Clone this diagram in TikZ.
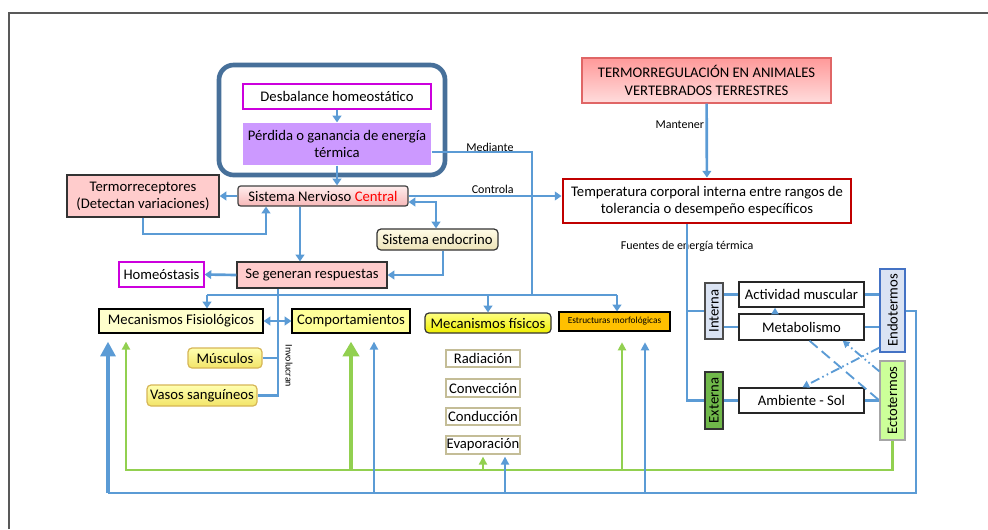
\documentclass[tikz,border=0pt]{standalone}
\usepackage{fontspec}
\setmainfont{Carlito}
\usetikzlibrary{arrows.meta,calc}
\definecolor{ablue}{HTML}{5B9BD5}
\definecolor{agreen}{HTML}{92D050}
\definecolor{frameblue}{HTML}{47709A}
\definecolor{mag}{HTML}{CC00DD}
\definecolor{lilac}{HTML}{CC99FF}
\definecolor{pinkf}{HTML}{FFCCCC}
\definecolor{pinktop}{HTML}{FFEDED}
\definecolor{pinkbot}{HTML}{F7B8B8}
\definecolor{cream1}{HTML}{FFFBE6}
\definecolor{cream2}{HTML}{EDE3B8}
\definecolor{darkred}{HTML}{C00000}
\definecolor{ylight}{HTML}{FFFFCC}
\definecolor{ymid}{HTML}{FFFF99}
\definecolor{ytop}{HTML}{FFFF80}
\definecolor{ybot}{HTML}{EEEE00}
\definecolor{goldf}{HTML}{FFC000}
\definecolor{olivegray}{HTML}{C4BD97}
\definecolor{goldbd}{HTML}{D6B656}
\definecolor{ygtop}{HTML}{FFFFB0}
\definecolor{ygbot}{HTML}{F2E468}
\definecolor{ttop}{HTML}{FF9999}
\definecolor{tbot}{HTML}{FFDDDD}
\definecolor{tbd}{HTML}{E06666}
\definecolor{lblue}{HTML}{DAE3F3}
\definecolor{mblue}{HTML}{4472C4}
\definecolor{gext}{HTML}{70B84A}
\definecolor{lgreen}{HTML}{CCFF99}
\definecolor{grayb}{HTML}{A6A6A6}
\definecolor{framegray}{HTML}{595959}
\begin{document}
\begin{tikzpicture}[x=0.75pt,y=-0.75pt,
  corners/.style n args={4}{minimum width={(#3-#1)*0.75pt}, minimum height={(#4-#2)*0.75pt}, at={({(#1+#3)/2},{(#2+#4)/2})}},
  base/.style={inner sep=0pt, align=center, font=\fontsize{11pt}{13pt}\selectfont, line width=0.9pt},
  mbox/.style={base, draw=mag, fill=white},
  lilbox/.style={base, fill=lilac},
  pinkbox/.style={base, draw=black!80, fill=pinkf},
  sncbox/.style={base, draw=black!75, rounded corners=2pt, top color=pinktop, bottom color=pinkbot},
  endobox/.style={base, draw=black!80, rounded corners=3pt, top color=cream1, bottom color=cream2},
  yl1/.style={base, draw=black, fill=ylight},
  yl2/.style={base, draw=black, fill=ymid},
  yel/.style={base, draw=black!80, rounded corners=3pt, top color=ytop, bottom color=ybot},
  gold/.style={base, draw=black, fill=goldf, font=\fontsize{7pt}{8pt}\selectfont},
  gyb/.style={base, draw=olivegray, fill=white},
  ygrad/.style={base, draw=goldbd, rounded corners=3pt, top color=ygtop, bottom color=ygbot},
  titlebox/.style={base, draw=tbd, top color=ttop, bottom color=tbot},
  tempbox/.style={base, draw=darkred, line width=2.2pt, fill=white},
  wbox/.style={base, draw=black!85, line width=1.1pt, fill=white},
  intbox/.style={base, draw=black!70, fill=lblue},
  extbox/.style={base, draw=black!80, fill=gext},
  endtbox/.style={base, draw=mblue, fill=lblue},
  ectbox/.style={base, draw=grayb, fill=lgreen},
  grpbox/.style={draw=frameblue, line width=3.5pt, rounded corners=11pt, inner sep=0pt},
  lbl/.style={font=\fontsize{9pt}{10pt}\selectfont, inner sep=1pt},
  ln/.style={draw=ablue, line width=2pt},
  arr/.style={ln, -{Triangle[width=6.5pt,length=5pt]}},
  darr/.style={ln, {Triangle[width=6.5pt,length=5pt]}-{Triangle[width=6.5pt,length=5pt]}},
  bthin/.style={draw=ablue, line width=1.5pt, -{Triangle[width=6pt,length=6pt]}},
  bthick/.style={draw=ablue, line width=3pt, -{Triangle[width=11pt,length=11pt]}},
  gl/.style={draw=agreen, line width=1.6pt},
  gthin/.style={gl, -{Triangle[width=6pt,length=6pt]}},
  gthick/.style={draw=agreen, line width=3pt, -{Triangle[width=12pt,length=11pt]}},
  dd/.style={draw=ablue, line width=1.4pt, dash pattern=on 7pt off 2.5pt on 1.2pt off 2.5pt on 1.2pt off 2.5pt, -{Triangle[width=5.5pt,length=5pt]}},
  dsh/.style={draw=ablue, line width=1.4pt, dash pattern=on 8pt off 4pt}
]
\useasboundingbox (0,0) rectangle (988,529);
\draw[framegray, line width=1.2pt] (9,529) -- (9,13) -- (988,13);

% group frame and its boxes
\node[grpbox, corners={219}{65}{445}{175}] (grp) {};
\node[mbox, corners={243}{84}{431}{109}] (desb) {Desbalance homeostático};
\node[lilbox, corners={243}{123}{431}{165}] (perd) {Pérdida o ganancia de energía\\térmica};

% left column
\node[sncbox, corners={238}{186}{408}{206}] (snc) {Sistema Nervioso {\color{red}Central}};
\node[pinkbox, corners={67}{175}{219}{217}] (termo) {Termorreceptores\\(Detectan variaciones)};
\node[endobox, corners={377}{229}{498}{250}] (endo) {Sistema endocrino};
\node[pinkbox, corners={237}{262}{387}{288}] (resp) {Se generan respuestas};
\node[mbox, corners={119}{262}{204}{287}] (homeo) {Homeóstasis};
\node[yl1, corners={99}{309}{263}{333}] (mecfis) {Mecanismos Fisiológicos};
\node[yl2, corners={292}{309}{410}{333}] (comp) {Comportamientos};
\node[yel, corners={425}{313}{551}{333}] (mecfisic) {Mecanismos físicos};
\node[gold, corners={559}{312}{670}{331}] (estr) {Estructuras morfológicas};
\node[gyb, corners={446}{350}{520}{367}] (rad) {Radiación};
\node[gyb, corners={446}{379}{520}{397}] (conv) {Convección};
\node[gyb, corners={446}{408}{520}{425}] (cond) {Conducción};
\node[gyb, corners={446}{436}{520}{454}] (evap) {Evaporación};
\node[ygrad, corners={188}{348}{262}{368}] (musc) {Músculos};
\node[ygrad, corners={147}{385}{257}{406}] (vasos) {Vasos sanguíneos};

% right column
\node[titlebox, corners={582}{58}{831}{103}] (title) {TERMORREGULACIÓN EN ANIMALES\\VERTEBRADOS TERRESTRES};
\node[tempbox, corners={563}{179}{851}{223}] (temp) {Temperatura corporal interna entre rangos de\\tolerancia o desempeño específicos};
\node[intbox, corners={705}{283}{723}{339}] (int) {\rotatebox{90}{Interna}};
\node[extbox, corners={705}{372}{723}{429}] (ext) {\rotatebox{90}{Externa}};
\node[wbox, corners={739}{282}{864}{307}] (act) {Actividad muscular};
\node[wbox, corners={739}{314}{864}{340}] (met) {Metabolismo};
\node[wbox, corners={739}{388}{864}{413}] (amb) {Ambiente - Sol};
\node[endtbox, corners={880}{269}{905}{352}] (endt) {\rotatebox{90}{Endotermos}};
\node[ectbox, corners={880}{361}{905}{440}] (ect) {\rotatebox{90}{Ectotermos}};

% helper coordinates
\coordinate (kT) at (266,234);
\coordinate (kS) at (300,0);
\coordinate (kE) at (436,202);
\coordinate (kE2) at (443,275);
\coordinate (kM) at (532,152);
\coordinate (b1) at (207,295);
\coordinate (b2) at (617,295);
\coordinate (kR) at (278,0);
\coordinate (kF) at (687,0);
\coordinate (g0) at (126,470);
\coordinate (bl0) at (108,493);
\coordinate (bR) at (916,311);
\coordinate (kG3) at (622,0);
\coordinate (kB1) at (374,0);
\coordinate (kB2) at (505,0);
\coordinate (kB3) at (645,0);
\coordinate (k9) at (775,0);

% labels
\node[lbl] (lmed) at (490,147) {Mediante};
\node[lbl] (lfue) at (687,246) {Fuentes de energía térmica};
\node[lbl, font=\fontsize{7.5pt}{8pt}\selectfont] (linv) at (289,366) {\rotatebox{-90}{Involucran}};

% connectors, top-left
\draw[arr] (desb) -- (perd);
\draw[arr] (perd.south) -- (perd.south |- snc.north);
\draw[arr] (snc.west) -- (termo.east);
\draw[arr] (termo.south) |- (kT) -- (snc.south -| kT);
\draw[arr] (snc.south -| kS) -- (resp.north -| kS);
\draw[darr] (snc.east |- kE) -- (kE) -- (endo.north -| kE);
\draw[arr] (endo.south -| kE2) |- (resp.east);
\draw[arr] (resp.west) -- (homeo.east);
\draw[arr] (snc.east) -- (temp.west |- snc.east) node[lbl, above, pos=0.55] (lctl) {Controla};
\draw[ln] (perd.east |- kM) -- (kM) -- (kM |- b1);
\draw[ln] (b1) -- (b2);
\draw[arr] (b1) -- (mecfis.north -| b1);
\draw[arr] (mecfisic.north |- b1) -- (mecfisic.north);
\draw[arr] (b2) -- (estr.north -| b2);
\draw[ln] (resp.south -| kR) -- (kR |- vasos.east) -- (vasos.east);
\draw[ln] (musc.east) -- (musc.east -| kR);
\draw[darr] (mecfis.east) -- (comp.west);

% green feedback
\draw[gthin, shorten >=6pt] (ect.south) |- (g0) -- (g0 |- mecfis.south);
\draw[gthick, shorten >=6pt] (comp.south |- g0) -- (comp.south);
\draw[gthin, shorten >=1.5pt] (evap.south |- g0) -- (evap.south);
\draw[gthin, shorten >=8pt] (kG3 |- g0) -- (kG3 |- estr.south);

% blue feedback
\draw[ln] (endt.east |- bR) -- (bR) |- (bl0);
\draw[bthick, shorten >=6pt] (bl0) -- (bl0 |- mecfis.south);
\draw[bthin, shorten >=6pt] (kB1 |- bl0) -- (kB1 |- comp.south);
\draw[bthin, shorten >=1.5pt] (kB2 |- bl0) -- (kB2 |- evap.south);
\draw[bthin, shorten >=8pt] (kB3 |- bl0) -- (kB3 |- estr.south);

% right side
\draw[arr] (title) -- (temp) node[lbl, left, pos=0.28] (lman) {Mantener};
\draw[ln] (temp.south -| kF) -- (kF |- ext.west) -- (ext.west);
\draw[ln] (kF |- int.west) -- (int.west);
\draw[ln] (int.east |- act.west) -- (act.west);
\draw[ln] (int.east |- met.west) -- (met.west);
\draw[ln] (ext.east) -- (amb.west);
\draw[ln] (act.east) -- (endt.west |- act.east);
\draw[ln] (met.east) -- (endt.west |- met.east);
\draw[ln] (amb.east) -- (ect.west |- amb.east);
\draw[dd] ($(endt.south west)+(0,-5)$) -- ($(amb.north)+(1,0)$);
\draw[dd] ($(ect.north west)+(0,11)$) -- ($(met.south east)+(-22,0)$);
\draw[dsh] ($(met.south)+(8,0)$) -- (ect.west);
\draw[dd] (met.north -| k9) -- (act.south -| k9);
\end{tikzpicture}
\end{document}
